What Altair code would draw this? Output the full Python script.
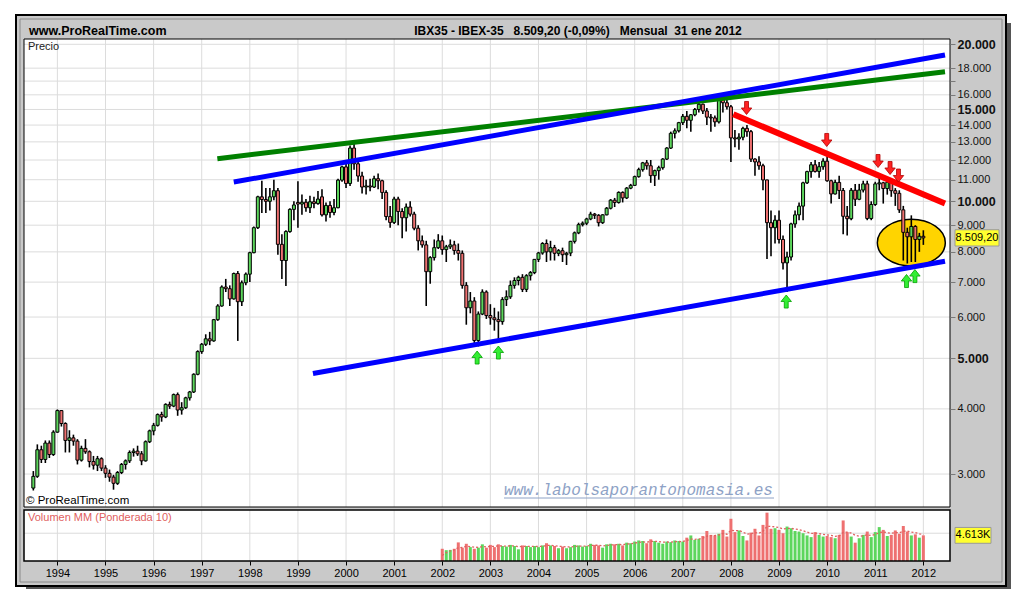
import altair as alt
import pandas as pd

# ---------------- data ----------------
# months counted from Jan 1994 (Jul 1993 = -6 ... Jan 2012 = 216)
month_index = list(range(-6, 217))

opens = [
    2820, 2970, 3340, 3200, 3440, 3270,
    3610, 3970, 3750, 3480, 3520, 3470, 3190, 3360, 3310, 3170, 3120, 3210,
    3080, 3010, 2960, 2880, 3020, 3130, 3180, 3300, 3320, 3280, 3180, 3460,
    3630, 3720, 3900, 3860, 4080, 4050, 4260, 3980, 4020, 4200, 4310, 4660,
    5150, 5320, 5450, 5400, 5930, 6300, 6850, 6800, 6500, 7270, 6420, 6980,
    7250, 7970, 8900, 10200, 10080, 10000, 10200, 10480, 8270, 7700, 8750, 9650,
    9950, 9880, 9960, 9720, 9980, 9900, 10200, 9420, 9820, 9520, 9720, 10980,
    11640, 10820, 12650, 11800, 11180, 10650, 10700, 10650, 11050, 10950, 10400, 9350,
    9110, 10100, 9560, 9300, 9750, 9450, 8880, 8400, 8250, 7330, 7800, 8150,
    8400, 8080, 8180, 8250, 8050, 7950, 6900, 6250, 6440, 5410, 6080, 6700,
    6040, 5980, 5930, 5880, 6480, 6560, 6900, 7050, 7150, 6780, 7200, 7300,
    7740, 7960, 8300, 8000, 8150, 7950, 8040, 7900, 7960, 8380, 8700, 9020,
    9080, 9250, 9450, 9400, 9100, 9420, 9700, 10050, 9950, 10400, 10150, 10600,
    10730, 11150, 11500, 11850, 11700, 11200, 11450, 11600, 12050, 12650, 13500, 13650,
    14150, 14550, 14300, 14650, 15000, 15350, 14900, 14500, 14450, 14200, 15850, 15450,
    15180, 13230, 13170, 13270, 13800, 13600, 12050, 11900, 11700, 10990, 9100, 8900,
    9200, 8450, 7620, 7820, 9050, 9420, 9790, 10850, 11400, 11750, 11410, 11650,
    11940, 10950, 10330, 10870, 10490, 9360, 9260, 10500, 10090, 10510, 10800, 9270,
    9860, 10800, 10850, 10580, 10880, 10480, 10360, 9630, 8720, 8550, 8950, 8450,
    8570,
]
highs = [
    3040, 3420, 3400, 3480, 3480, 3640,
    3990, 3980, 3770, 3640, 3570, 3500, 3400, 3500, 3330, 3250, 3250, 3230,
    3120, 3060, 2990, 3040, 3150, 3200, 3330, 3360, 3400, 3320, 3480, 3650,
    3760, 3920, 3950, 4100, 4130, 4280, 4300, 4120, 4220, 4330, 4680, 5180,
    5350, 5560, 5620, 5950, 6350, 6900, 7100, 6900, 7300, 7350, 7050, 7300,
    8000, 8950, 10250, 10950, 10600, 10600, 11000, 10600, 8650, 8800, 9700, 10000,
    10930, 10300, 10100, 10250, 10200, 10470, 10550, 9950, 10000, 10100, 11050, 11700,
    11800, 12800, 12900, 12000, 11400, 11000, 11050, 11200, 11300, 11000, 10500, 9800,
    10200, 10200, 9700, 9900, 10000, 9550, 9000, 8600, 8400, 7850, 8450, 8650,
    8600, 8250, 8450, 8400, 8300, 8050, 7000, 6700, 6550, 6150, 6780, 6750,
    6350, 6250, 6150, 6550, 6750, 7050, 7150, 7200, 7250, 7250, 7350, 7750,
    8000, 8350, 8450, 8400, 8250, 8100, 8150, 8000, 8400, 8750, 9100, 9150,
    9300, 9550, 9500, 9450, 9450, 9750, 10100, 10150, 10450, 10450, 10650, 10800,
    11200, 11600, 11900, 12000, 12000, 11500, 11700, 12100, 12700, 13600, 13800, 14200,
    14700, 14900, 14700, 15100, 15500, 15400, 15100, 14700, 14600, 15950, 16040, 15700,
    15300, 13700, 13500, 13900, 14000, 13700, 12100, 12200, 11800, 11000, 9600, 9400,
    9600, 8600, 8000, 9100, 9600, 9950, 10900, 11450, 11900, 12000, 11900, 12100,
    12200, 11000, 11000, 11200, 10600, 9800, 10600, 10800, 10800, 10950, 10950, 10000,
    10900, 11100, 10900, 11000, 10950, 10600, 10500, 9800, 8900, 9400, 9000, 8700,
    8800,
]
lows = [
    2790, 2950, 3150, 3150, 3220, 3250,
    3600, 3700, 3300, 3300, 3400, 3130, 3170, 3280, 3090, 3060, 3040, 3040,
    2950, 2900, 2800, 2860, 3000, 3060, 3150, 3240, 3250, 3120, 3170, 3440,
    3560, 3700, 3780, 3840, 4000, 4030, 3880, 3900, 4000, 4150, 4290, 4640,
    5100, 5280, 5300, 5380, 5900, 6280, 6700, 6300, 6480, 5400, 6300, 6900,
    7000, 7950, 8850, 9500, 9500, 9600, 10050, 7900, 7100, 6880, 8700, 9200,
    8900, 9420, 9550, 9500, 9700, 9850, 9350, 9150, 9300, 9400, 9700, 10900,
    10600, 10700, 11500, 10900, 10350, 10300, 10450, 10600, 10550, 10100, 9200, 8900,
    9050, 9000, 8500, 8750, 9350, 8800, 8050, 8150, 6300, 6950, 7700, 8100,
    7900, 7650, 8100, 7900, 7700, 6800, 5800, 6100, 5350, 5270, 6050, 5950,
    5800, 5650, 5430, 5800, 6300, 6500, 6800, 6900, 6700, 6700, 7050, 7250,
    7650, 7900, 7650, 7700, 7700, 7850, 7650, 7550, 7850, 8300, 8650, 8950,
    9000, 9200, 9250, 8950, 9050, 9400, 9650, 9750, 9900, 9950, 10100, 10550,
    10700, 11100, 11400, 11500, 10850, 10700, 11000, 11500, 12000, 12600, 13200, 13550,
    14000, 13800, 13600, 14550, 14800, 14700, 14000, 13600, 13900, 14100, 14800, 15000,
    11900, 12700, 12550, 13100, 13300, 11900, 11200, 11500, 10500, 7750, 7850, 8300,
    8300, 7400, 6700, 7700, 8900, 9200, 9200, 10800, 11100, 11350, 11100, 11500,
    10900, 9900, 10300, 10100, 8650, 8600, 9200, 9800, 10050, 10400, 9200, 9200,
    9800, 10500, 9900, 10300, 10200, 9800, 9500, 7700, 7600, 7650, 7650, 8000,
    8250,
]
closes = [
    2970, 3340, 3200, 3440, 3270, 3610,
    3970, 3750, 3480, 3520, 3470, 3190, 3360, 3310, 3170, 3120, 3210, 3080,
    3010, 2960, 2880, 3020, 3130, 3180, 3300, 3320, 3280, 3180, 3460, 3630,
    3720, 3900, 3860, 4080, 4050, 4260, 3980, 4020, 4200, 4310, 4660, 5150,
    5320, 5450, 5400, 5930, 6300, 6850, 6800, 6500, 7270, 6420, 6980, 7250,
    7970, 8900, 10200, 10080, 10000, 10200, 10480, 8270, 7700, 8750, 9650, 9840,
    9880, 9960, 9720, 9980, 9900, 10100, 9420, 9820, 9520, 9720, 10980, 11640,
    10820, 12650, 11800, 11180, 10650, 10700, 10650, 11050, 10950, 10400, 9350, 9110,
    10100, 9560, 9300, 9750, 9450, 8880, 8400, 8250, 7330, 7800, 8150, 8400,
    8080, 8180, 8250, 8050, 7950, 6900, 6250, 6440, 5410, 6080, 6700, 6040,
    5980, 5930, 5880, 6480, 6560, 6900, 7050, 7150, 6780, 7200, 7300, 7740,
    7960, 8300, 8000, 8150, 7950, 8040, 7900, 7950, 8380, 8700, 9020, 9080,
    9250, 9450, 9400, 9100, 9420, 9700, 10050, 9950, 10400, 10150, 10600, 10730,
    11150, 11500, 11850, 11700, 11200, 11450, 11600, 12050, 12650, 13500, 13650, 14150,
    14550, 14300, 14650, 15000, 15350, 14900, 14500, 14450, 14200, 15850, 15450, 15180,
    13230, 13170, 13270, 13800, 13600, 12050, 11900, 11700, 10990, 9100, 8900, 9200,
    8450, 7620, 7820, 9050, 9420, 9790, 10850, 11400, 11750, 11410, 11650, 11940,
    10950, 10330, 10870, 10490, 9360, 9260, 10500, 10090, 10510, 10800, 9270, 9860,
    10800, 10850, 10580, 10880, 10480, 10360, 9630, 8720, 8550, 8950, 8450, 8570,
    8509.2,
]

# volume (Jan 2002 .. Jan 2012) and its weighted moving average
volume_months = list(range(96, 217))
volumes = [
    2200, 1950, 2000, 2200, 3350, 2400, 3100, 2500, 2200, 2400, 3000, 2400,
    2900, 2500, 3000, 2700, 2600, 2900, 2700, 2100, 2800, 2700, 2500, 2700,
    2500, 2800, 3200, 2800, 2700, 2300, 2600, 2300, 2500, 2900, 2800, 2600,
    2700, 3100, 2900, 2800, 2400, 3000, 3100, 3000, 3100, 2800, 3300, 3200,
    3500, 3700, 3600, 3200, 3900, 3600, 3300, 3100, 3500, 3400, 3700, 3600,
    3500, 4200, 4600, 3800, 4000, 4500, 5400, 4700, 4600, 4900, 5600, 4400,
    7600, 5200, 5500, 4500, 3700, 5100, 5800, 4600, 6500, 8700, 5800, 5900,
    5600, 5000, 6200, 5900, 5400, 5300, 5000, 4600, 4300, 5200, 4700, 4400,
    4500, 4300, 4100, 4700, 7300, 5200, 4400, 3300, 4100, 4700, 5300, 4300,
    5200, 6100, 5600, 4500, 4700, 5500, 4900, 6300, 5300, 4600, 4800, 4200,
    4613,
]
volume_ma = [
    1000, 1500, 1800, 2000, 2400, 2450, 2650, 2600, 2500, 2450, 2600, 2550,
    2650, 2620, 2720, 2700, 2680, 2740, 2730, 2580, 2640, 2660, 2620, 2650,
    2600, 2650, 2800, 2800, 2780, 2650, 2630, 2540, 2530, 2630, 2680, 2660,
    2680, 2800, 2840, 2830, 2720, 2800, 2880, 2920, 2980, 2940, 3050, 3100,
    3220, 3360, 3440, 3390, 3520, 3550, 3500, 3400, 3420, 3410, 3480, 3510,
    3500, 3700, 3930, 3910, 3950, 4100, 4480, 4560, 4590, 4690, 4950, 4820,
    5520, 5450, 5480, 5200, 4850, 4900, 5120, 5000, 5380, 6250, 6230, 6150,
    6020, 5750, 5850, 5870, 5760, 5640, 5440, 5200, 4960, 5010, 4940, 4780,
    4710, 4600, 4450, 4520, 5150, 5200, 5040, 4620, 4470, 4530, 4710, 4610,
    4760, 5100, 5240, 5080, 4990, 5120, 5080, 5350, 5370, 5210, 5120, 4900,
    4780,
]

year_ticks = list(range(0, 217, 12))
price_ticks = [3000, 4000, 5000, 6000, 7000, 8000, 9000, 10000, 11000, 12000,
               13000, 14000, 15000, 16000, 17000, 18000, 20000]
volume_grid = [5000]

# trend lines (start / end points, month index and price)
blue_upper_m = [44.0, 221.4]
blue_upper_v = [10888, 19077]
green_upper_m = [39.9, 221.4]
green_upper_v = [12069, 17710]
blue_lower_m = [63.75, 221.4]
blue_lower_v = [4675, 7675]
red_down_m = [168.6, 221.4]
red_down_v = [14684, 9903]

red_arrow_m = [171.9, 191.9, 204.7, 207.7, 209.8]
red_arrow_v = [15098, 13108, 11947, 11584, 11205]
green_arrow_m = [104.7, 110.0, 181.8, 211.8, 213.9]
green_arrow_v = [5018, 5130, 6425, 7034, 7189]
ellipse_m = [213.0]
ellipse_v = [8330]

last_price = [8509.2]
last_price_text = ["8.509,20"]
last_volume = [4613]
last_volume_text = ["4.613K"]

NB = "\u00a0"
header_title = "IBX35 - IBEX-35" + NB * 3 + "8.509,20 (-0,09%)" + NB * 3 + "Mensual" + NB * 2 + "31 ene 2012"

assert len(opens) == len(highs) == len(lows) == len(closes) == len(month_index) == 223
assert len(volumes) == len(volume_ma) == len(volume_months) == 121

# ---------------- tables ----------------
candles = pd.DataFrame({"m": month_index, "open": opens, "high": highs,
                        "low": lows, "close": closes})
pos = {m: i for i, m in enumerate(month_index)}
vol_df = pd.DataFrame({
    "m": volume_months, "vol": volumes, "ma": volume_ma,
    "open": [opens[pos[m]] for m in volume_months],
    "close": [closes[pos[m]] for m in volume_months],
})
years_df = pd.DataFrame({"m": year_ticks})
pticks_df = pd.DataFrame({"v": price_ticks})
vgrid_df = pd.DataFrame({"v": volume_grid})
one = pd.DataFrame({"k": [0]})


def line_df(ms, vs):
    return pd.DataFrame({"m": ms, "v": vs})


# ---------------- styling ----------------
FONT = "Liberation Sans"
GREEN = "#5cd65c"
RED = "#ee7070"
W, H = 926, 522
PRICE_H = 468
VOL_TOP, VOL_BOT = 471, 522

x_scale = alt.Scale(domain=[-7.08, 221.4], nice=False, zero=False)
x_axis = alt.Axis(values=year_ticks, labelExpr="toString(1994 + datum.value / 12)",
                  grid=False, domain=False, ticks=True, tickSize=4, tickColor="#000000",
                  labelFont=FONT, labelFontSize=11, labelColor="#000000", labelPadding=2,
                  labelFlush=False, labelOverlap=False, zindex=1)

bold_test = "datum.value == 5000 || datum.value == 10000 || datum.value == 15000 || datum.value == 20000"
yp_scale = alt.Scale(type="log", domain=[2594, 20472], range=[PRICE_H, 0], nice=False)
yp_axis = alt.Axis(orient="right", values=price_ticks,
                   labelExpr="datum.value == 17000 ? '' : replace(format(datum.value, ','), ',', '.')",
                   grid=False, domain=False, ticks=True, tickSize=5, tickColor="#7a7a7a",
                   labelPadding=2, labelOverlap=False, labelFlush=False, labelFont=FONT,
                   labelFontSize={"condition": {"test": bold_test, "value": 12.5}, "value": 11},
                   labelFontWeight={"condition": {"test": bold_test, "value": "bold"}, "value": "normal"},
                   labelColor="#111111", zindex=1)
yv_scale = alt.Scale(domain=[0, 9000], range=[VOL_BOT, VOL_TOP + 1], nice=False)


def X(field="m"):
    return alt.X(f"{field}:Q", scale=x_scale, axis=x_axis, title=None)


def YP(field):
    return alt.Y(f"{field}:Q", scale=yp_scale, axis=yp_axis, title=None)


def YV(field):
    return alt.Y(f"{field}:Q", scale=yv_scale, axis=None, title=None)


def box(x1, x2, y1, y2, **kw):
    return alt.Chart(one).mark_rect(**kw).encode(
        x=alt.value(x1), x2=alt.value(x2), y=alt.value(y1), y2=alt.value(y2))


def label(txt, x, y, **kw):
    return alt.Chart(one).mark_text(**kw).encode(
        x=alt.value(x), y=alt.value(y), text=alt.value(txt))


# ---------------- frame ----------------
shadow_r = box(982, 987, -16, 550, fill="#555555")
shadow_b = box(2, 987, 547, 550, fill="#555555")
frame = box(-8, 982, -24, 547, fill="#c9c9c9", stroke="#000000", strokeWidth=2)
inner_frame = box(-4, 978, -20, 543, fillOpacity=0, stroke="#8a8a8a", strokeWidth=1)
price_bg = box(0, W, 0, PRICE_H, fill="#ffffff")
vol_bg = box(0, W, VOL_TOP, VOL_BOT, fill="#ffffff")

vgrid_price = alt.Chart(years_df).mark_rule(color="#dcdcdc", strokeWidth=1).encode(
    x=X(), y=alt.value(0), y2=alt.value(PRICE_H))
vgrid_vol = alt.Chart(years_df).mark_rule(color="#dcdcdc", strokeWidth=1).encode(
    x=X(), y=alt.value(VOL_TOP), y2=alt.value(VOL_BOT))

# ---------------- price panel ----------------
hgrid = alt.Chart(pticks_df).mark_rule(color="#dcdcdc", strokeWidth=1).encode(
    y=YP("v"), x=alt.value(0), x2=alt.value(W))

ELLIPSE = ("M-1,0C-1,-0.3794,-0.5523,-0.687,0,-0.687C0.5523,-0.687,1,-0.3794,1,0"
           "C1,0.3794,0.5523,0.687,0,0.687C-0.5523,0.687,-1,0.3794,-1,0Z")
ellipse = alt.Chart(line_df(ellipse_m, ellipse_v)).mark_point(
    shape=ELLIPSE, size=4624, filled=True, fill="#ffd400", stroke="#000000",
    strokeWidth=1.5, opacity=1).encode(x=X(), y=YP("v"))

up_cond = "datum.close >= datum.open"
wicks = alt.Chart(candles).mark_rule(color="#000000", strokeWidth=1.6).encode(
    x=X(), y=YP("low"), y2=alt.Y2("high"))
bodies = alt.Chart(candles).mark_bar(width=3, stroke="#000000", strokeWidth=1).encode(
    x=X(), y=YP("open"), y2=alt.Y2("close"),
    fill=alt.condition(up_cond, alt.value(GREEN), alt.value(RED)))


def trend(ms, vs, color, w=5):
    return alt.Chart(line_df(ms, vs)).mark_line(color=color, strokeWidth=w, strokeCap="butt").encode(
        x=X(), y=YP("v"))


lines = [
    trend(green_upper_m, green_upper_v, "#008000"),
    trend(blue_upper_m, blue_upper_v, "#0000ff"),
    trend(blue_lower_m, blue_lower_v, "#0000ff"),
    trend(red_down_m, red_down_v, "#ff0000", 6),
]

DOWN = "M-0.3,-1L0.3,-1L0.3,0L0.8,0L0,1L-0.8,0L-0.3,0Z"
UP = "M-0.3,1L0.3,1L0.3,0L0.8,0L0,-1L-0.8,0L-0.3,0Z"
red_arrows = alt.Chart(line_df(red_arrow_m, red_arrow_v)).mark_point(
    shape=DOWN, size=170, filled=True, fill="#ff2222", stroke="#b00000",
    strokeWidth=0.8, opacity=1).encode(x=X(), y=YP("v"))
green_arrows = alt.Chart(line_df(green_arrow_m, green_arrow_v)).mark_point(
    shape=UP, size=170, filled=True, fill="#33ee33", stroke="#00a000",
    strokeWidth=0.8, opacity=1).encode(x=X(), y=YP("v"))

PBOX = "M-1,-0.37L1,-0.37L1,0.37L-1,0.37Z"
price_box = alt.Chart(pd.DataFrame({"v": last_price})).mark_point(
    shape=PBOX, size=1936, filled=True, fill="#ffff30", stroke="#9a9a9a",
    strokeWidth=1, opacity=1).encode(x=alt.value(953), y=YP("v"))
price_txt = alt.Chart(pd.DataFrame({"v": last_price, "t": last_price_text})).mark_text(
    font=FONT, fontSize=11, color="#000000", align="center", baseline="middle").encode(
    x=alt.value(953), y=YP("v"), text="t:N")

price_group = alt.layer(hgrid, ellipse, wicks, bodies, *lines, red_arrows, green_arrows,
                        price_box, price_txt)

# ---------------- volume panel ----------------
vgrid_h = alt.Chart(vgrid_df).mark_rule(color="#dcdcdc", strokeWidth=1).encode(
    y=YV("v"), x=alt.value(0), x2=alt.value(W))
vol_bars = alt.Chart(vol_df).mark_bar(width=3).encode(
    x=X(), y=YV("vol"),
    fill=alt.condition(up_cond, alt.value(GREEN), alt.value(RED)))
vol_ma = alt.Chart(vol_df).mark_line(color="#e06060", strokeWidth=1.3, strokeDash=[2, 2]).encode(
    x=X(), y=YV("ma"))
VBOX = "M-1,-0.44L1,-0.44L1,0.44L-1,0.44Z"
vol_box = alt.Chart(pd.DataFrame({"v": last_volume})).mark_point(
    shape=VBOX, size=1296, filled=True, fill="#ffff30", stroke="#9a9a9a",
    strokeWidth=1, opacity=1).encode(x=alt.value(949), y=YV("v"))
vol_txt = alt.Chart(pd.DataFrame({"v": last_volume, "t": last_volume_text})).mark_text(
    font=FONT, fontSize=11, color="#000000", align="center", baseline="middle").encode(
    x=alt.value(949), y=YV("v"), text="t:N")

vol_group = alt.layer(vgrid_h, vol_bars, vol_ma, vol_box, vol_txt)

# ---------------- borders and texts ----------------
price_border = box(0, W, 0, PRICE_H, fillOpacity=0, stroke="#000000", strokeWidth=1)
vol_border = box(0, W, VOL_TOP, VOL_BOT, fillOpacity=0, stroke="#000000", strokeWidth=1.5)

texts = [
    label("www.ProRealTime.com", 5, -8, font=FONT, fontSize=12.5, fontWeight="bold",
          align="left", baseline="middle", color="#000000"),
    label(header_title, 554, -8, font=FONT,
          fontSize=12, fontWeight="bold", align="center", baseline="middle", color="#000000"),
    label("Precio", 4, 8, font=FONT, fontSize=11, align="left", baseline="middle", color="#222222"),
    label("\u00a9 ProRealTime.com", 2, 462, font=FONT, fontSize=11.5, align="left",
          baseline="middle", color="#000000"),
    label("www.labolsaporantonomasia.es", 480, 451, font="Liberation Mono", fontSize=16,
          fontStyle="italic", align="left", baseline="middle", color="#8ea2c6"),
    label("Volumen MM (Ponderada 10)", 4, 479, font=FONT, fontSize=11, align="left",
          baseline="middle", color="#e06060"),
]
underline = alt.Chart(one).mark_rule(color="#8ea2c6", strokeWidth=1).encode(
    x=alt.value(480), x2=alt.value(750), y=alt.value(459))

chart = alt.layer(
    shadow_r, shadow_b, frame, inner_frame, price_bg, vol_bg, vgrid_price, vgrid_vol,
    price_group, vol_group, price_border, vol_border, *texts, underline,
).resolve_scale(y="independent").properties(
    width=W, height=H,
    padding={"left": 7, "top": 6, "right": 0, "bottom": 0},
    background="#ffffff",
).configure(font=FONT).configure_view(strokeWidth=0)

chart.save("out.html", embed_options={"renderer": "svg", "actions": False})
